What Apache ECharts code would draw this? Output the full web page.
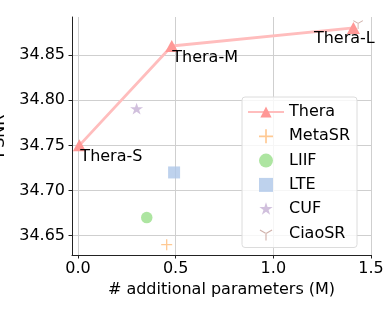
<!DOCTYPE html>
<html>
<head>
<meta charset="utf-8">
<script src="https://cdn.jsdelivr.net/npm/echarts@6/dist/echarts.min.js"></script>
<style>html,body{margin:0;padding:0;background:#fff}#c{width:389px;height:315px}</style>
</head>
<body>
<div id="c"></div>
<script>
// Data
const xTicks = [0, 0.5, 1.0, 1.5];
const yTicks = [34.65, 34.70, 34.75, 34.80, 34.85];
const theraX = [0.007, 0.48, 1.41];
const theraY = [34.75, 34.86, 34.88];
const theraLabels = ['Thera-S', 'Thera-M', 'Thera-L'];
const metaSR = [[0.454, 34.64]];
const liif = [[0.352, 34.67]];
const lte = [[0.492, 34.72]];
const cuf = [[0.30, 34.79]];
const ciaoSR = [[1.434, 34.885]];

const FONT = 'DejaVu Sans';
const plusPath = 'path://M44,0H56V44H100V56H56V100H44V56H0V44H44Z';
const squarePath = 'path://M0,0H100V100H0Z';
const starPath = 'path://M50,0L61.23,34.55L97.55,34.55L68.17,55.9L79.39,90.45L50,69.1L20.61,90.45L31.83,55.9L2.45,34.55L38.77,34.55Z M49.9,100L50.1,100L50,99.9Z';
const triDownPath = 'path://M46,50L54,50L54,100L46,100Z M52,46.54L8.7,21.54L4.7,28.46L48,53.46Z M48,46.54L91.3,21.54L95.3,28.46L52,53.46Z M49.9,0L50.1,0L50,0.1Z';

const labelOffsets = [[1, 11.5], [0.5, 11.5], [-39.5, 10.5]];
const theraData = theraX.map((x, i) => ({
  value: [x, theraY[i]],
  label: {
    show: true, formatter: theraLabels[i], position: 'inside',
    align: 'left', verticalAlign: 'middle', offset: labelOffsets[i],
    color: '#000', fontFamily: FONT, fontSize: 16
  }
}));

const chart = echarts.init(document.getElementById('c'), null, {renderer: 'canvas'});
chart.setOption({
  animation: false,
  grid: {left: 72, right: 18, top: 17, bottom: 60, containLabel: false, outerBoundsMode: 'none'},
  xAxis: {
    type: 'value', min: -0.0307, max: 1.5,
    name: '# additional parameters (M)', nameLocation: 'middle', nameGap: 33,
    nameTextStyle: {fontFamily: FONT, fontSize: 16, color: '#000', verticalAlign: 'middle'},
    axisLine: {show: true, onZero: false, lineStyle: {color: '#222', width: 1}},
    axisTick: {show: true, customValues: xTicks, length: 3.5, lineStyle: {color: '#222'}},
    axisLabel: {customValues: xTicks, formatter: v => v.toFixed(1), margin: 5.5,
      fontFamily: FONT, fontSize: 16, color: '#000'},
    splitLine: {show: true, lineStyle: {color: '#cfcfcf', width: 1}}
  },
  yAxis: {
    type: 'value', min: 34.6286, max: 34.8921,
    name: 'PSNR', nameLocation: 'middle', nameGap: 63,
    nameTextStyle: {fontFamily: FONT, fontSize: 16, color: '#000', verticalAlign: 'middle'},
    axisLine: {show: true, onZero: false, lineStyle: {color: '#222', width: 1}},
    axisTick: {show: true, customValues: yTicks, length: 3.5, lineStyle: {color: '#222'}},
    axisLabel: {customValues: yTicks, formatter: v => v.toFixed(2), margin: 7,
      fontFamily: FONT, fontSize: 16, color: '#000'},
    splitLine: {show: true, lineStyle: {color: '#cfcfcf', width: 1}}
  },
  legend: {
    orient: 'vertical', left: 242, top: 97, width: 121,
    padding: [7, 7, 6, 5], itemGap: 8.3, itemWidth: 36, itemHeight: 14,
    backgroundColor: 'rgba(255,255,255,0.8)', borderColor: '#dcdcdc', borderWidth: 1, borderRadius: 3,
    textStyle: {fontFamily: FONT, fontSize: 16, color: '#000', lineHeight: 16},
    data: ['Thera', 'MetaSR', 'LIIF', 'LTE', 'CUF', 'CiaoSR']
  },
  series: [
    {name: 'CiaoSR', type: 'scatter', data: ciaoSR, symbol: triDownPath, symbolSize: [10, 11],
      itemStyle: {color: '#c49c94'}, z: 3},
    {name: 'Thera', type: 'line', data: theraData, symbol: 'triangle', symbolSize: [13, 12],
      showAllSymbol: true,
      lineStyle: {color: '#ffbdbd', width: 2.8}, itemStyle: {color: '#ff9896'}, z: 4},
    {name: 'MetaSR', type: 'scatter', data: metaSR, symbol: plusPath, symbolSize: 11,
      itemStyle: {color: '#ffbb78'}},
    {name: 'LIIF', type: 'scatter', data: liif, symbol: 'circle', symbolSize: 11.5,
      itemStyle: {color: '#98df8a'}},
    {name: 'LTE', type: 'scatter', data: lte, symbol: squarePath, symbolSize: 12,
      itemStyle: {color: '#aec7e8'}},
    {name: 'CUF', type: 'scatter', data: cuf, symbol: starPath, symbolSize: 13,
      itemStyle: {color: '#c5b0d5'}}
  ]
});
</script>
</body>
</html>
